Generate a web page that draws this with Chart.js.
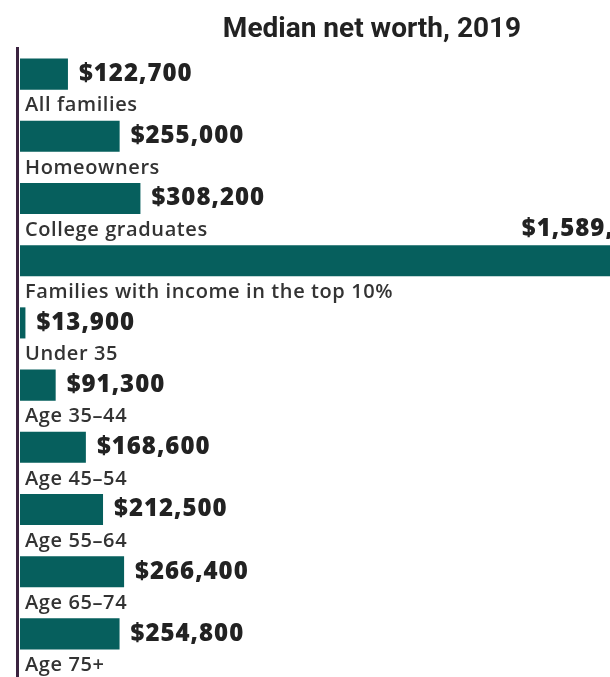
<!DOCTYPE html>
<html>
<head>
<meta charset="utf-8">
<script src="https://cdn.jsdelivr.net/npm/chart.js@4.4.1/dist/chart.umd.min.js"></script>
<style>
    html, body { margin: 0; padding: 0; background: #fff; }
    #wrap { width: 610px; height: 677px; position: relative; }
</style>
</head>
<body>
<div id="wrap"><canvas id="worth-chart" width="610" height="677"></canvas></div>
<script>
// Median net worth, 2019
const categories = [
    'All families',
    'Homeowners',
    'College graduates',
    'Families with income in the top 10%',
    'Under 35',
    'Age 35\u201344',
    'Age 45\u201354',
    'Age 55\u201364',
    'Age 65\u201374',
    'Age 75+'
];
const medianWorth = [122700, 255000, 308200, 1589300, 13900, 91300, 168600, 212500, 266400, 254800];

const BAR_COLOR = '#065f5d';
const AXIS_COLOR = '#3b2340';

function formatMoney(v) {
    return '$' + v.toLocaleString('en-US');
}

// title, left axis line, value and category labels
const annotate = {
    id: 'annotate',
    afterDatasetsDraw(chart) {
        const ctx = chart.ctx;
        const area = chart.chartArea;
        const bars = chart.getDatasetMeta(0).data;

        ctx.save();
        // title
        ctx.fillStyle = '#222';
        ctx.font = 'bold 28px "Liberation Sans Narrow", Roboto, sans-serif';
        ctx.textAlign = 'center';
        ctx.textBaseline = 'alphabetic';
        ctx.fillText('Median net worth, 2019', 372, 37);

        // axis line
        ctx.fillStyle = AXIS_COLOR;
        ctx.fillRect(area.left - 4, 47, 3, chart.height - 47);

        bars.forEach((bar, i) => {
            const top = bar.y - bar.height / 2;
            const bottom = bar.y + bar.height / 2;
            ctx.fillStyle = '#222';
            ctx.font = '800 24px "Open Sans", sans-serif';
            ctx.letterSpacing = '1px';
            ctx.textBaseline = 'middle';
            if (bar.x > area.right) {
                // bar runs off the edge: value sits above it
                ctx.textAlign = 'right';
                ctx.fillText(formatMoney(medianWorth[i]), bar.x + 18, top - 16);
            } else {
                ctx.textAlign = 'left';
                ctx.fillText(formatMoney(medianWorth[i]), bar.x + 11, bar.y);
            }
            ctx.fillStyle = '#333';
            ctx.font = '600 20px "Open Sans", sans-serif';
            ctx.letterSpacing = '0.6px';
            ctx.textAlign = 'left';
            ctx.fillText(categories[i], area.left + 5, bottom + 16);
        });
        ctx.restore();
    }
};

new Chart(document.getElementById('worth-chart').getContext('2d'), {
    type: 'bar',
    data: {
        labels: categories,
        datasets: [{
            data: medianWorth,
            backgroundColor: BAR_COLOR,
            borderWidth: 0,
            categoryPercentage: 1,
            barPercentage: 0.5
        }]
    },
    options: {
        indexAxis: 'y',
        responsive: false,
        animation: false,
        layout: {
            padding: { left: 20, right: 0, top: 43, bottom: 12 }
        },
        scales: {
            x: { display: false, min: 0, max: 1510000 },
            y: { display: false }
        },
        plugins: {
            legend: { display: false },
            tooltip: { enabled: false }
        }
    },
    plugins: [annotate]
});
</script>
</body>
</html>
